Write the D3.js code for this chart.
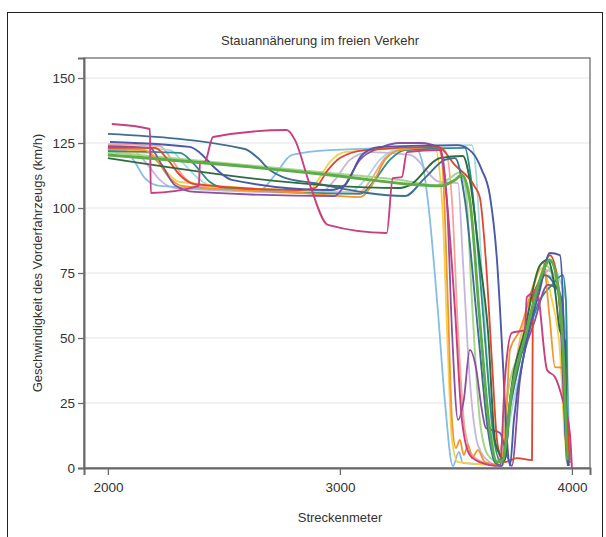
<!DOCTYPE html>
<html>
<head>
<meta charset="utf-8">
<script src="https://cdn.jsdelivr.net/npm/d3@7"></script>
<style>
  body { margin: 0; background: #fff; }
  svg text { font-family: "Liberation Sans", Arial, sans-serif; fill: #333; }
</style>
</head>
<body>
<svg id="chart" width="606" height="537"></svg>
<script>
// Speed of the leading vehicle (km/h) against position (Streckenmeter)
const yTicks = [0, 25, 50, 75, 100, 125, 150];
const xTicks = [2000, 3000, 4000];

const magenta = [[2017,132.3],[2181,130.4],[2185,105.8],[2392,108.5],[2397,117.3],[2418,117.7],[2453,127.3],[2771,130],[2806,126.2],[2871,108.8],[2948,93.5],[3202,90.4],[3228,111.5],[3267,111.9],[3289,121.5],[3431,122.3],[3461,103],[3496,60.8],[3526,18.5],[3560,5],[3603,2.3],[3690,0.8],[3711,33.8],[3741,52],[3797,53],[3806,65.8],[3849,67.7],[3893,37.7],[3927,35],[3961,26],[3991,13.5],[4000,0]];
const navy = [[2009,125.4],[2353,123.5],[2397,121.2],[2461,115.4],[2534,110.8],[2957,106.9],[3021,108.8],[3095,120.4],[3172,123.5],[3509,124.2],[3569,121.5],[3612,114.6],[3646,105],[3677,80],[3702,41.5],[3720,10.8],[3733,0.8],[3750,18.5],[3797,45.4],[3862,68.5],[3905,82.7],[3948,81.9],[3965,53],[3974,10.8],[3983,0.8]];
const steel = [[2000,128.5],[2590,122.7],[2647,119.2],[2698,114.6],[2754,111.9],[2884,109.6],[3280,104.6],[3366,111.5],[3452,118.5],[3496,119.2],[3539,103],[3595,53],[3638,14.6],[3668,2.3],[3698,0.8],[3724,18.5],[3776,41.5],[3841,64.6],[3884,74.2],[3927,70.4],[3957,64.6],[3974,10.8],[3987,0.8]];
const darkGreen = [[2000,119.2],[3259,107.7],[3302,108.8],[3431,119.2],[3530,120],[3560,110.8],[3603,80],[3638,53],[3668,10.8],[3690,5],[3711,3],[3733,26],[3797,53],[3862,78],[3896,80],[3927,68.5],[3948,53],[3970,49],[3978,3]];
const orange = [[2000,122.7],[2159,122.3],[2215,117.7],[2267,111.5],[2319,108.5],[2828,105.8],[3086,104.2],[3138,108.8],[3194,118.5],[3259,122.3],[3422,123.5],[3440,118.5],[3465,64.6],[3483,18.5],[3500,7.7],[3517,10.8],[3534,5],[3552,8.8],[3569,3.8],[3595,6.9],[3625,2.3],[3690,1.2],[3711,10.8],[3733,45.4],[3776,53],[3841,72.3],[3875,79.2],[3905,56.9],[3927,38.8],[3974,38.5],[3983,3]];
const red = [[2000,123.1],[2203,123.1],[2259,118.5],[2310,112.7],[2375,109.2],[2828,106.9],[2892,107.7],[2948,114.6],[3000,119.2],[3108,122.3],[3422,123.5],[3496,116.5],[3582,108.1],[3603,104.2],[3629,80],[3655,41.5],[3677,10.8],[3690,5],[3711,2.3],[3763,3.8],[3828,3],[3832,65.8],[3862,72.3],[3905,81.9],[3931,76.2],[3970,33.8],[3991,1.9]];
const yellow = [[2000,121.5],[2181,121.2],[2246,114.6],[2310,110],[2871,106.9],[2906,110.8],[2957,117.7],[3021,121.5],[3409,123.1],[3440,103],[3465,45.4],[3483,10.8],[3509,2.3],[3690,1.2],[3733,26],[3819,64.6],[3871,76.9],[3914,64.6],[3948,45.4],[3970,10.8],[3983,1.2]];
const lightBlue = [[2000,122.3],[2073,122.3],[2116,117.7],[2159,111.5],[2224,108.5],[2655,106.9],[2720,112.7],[2793,120.4],[2957,122.3],[3323,123.1],[3353,118.5],[3379,103],[3422,60.8],[3452,26.2],[3487,0.8],[3513,6.2],[3530,1.9],[3698,1.2],[3733,26],[3776,45.4],[3841,64.6],[3884,74.2],[3927,72.3],[3970,53],[3991,3]];
const paleCyan = [[2000,123.8],[2267,122.3],[2332,116.5],[2397,110.8],[2461,108.1],[3043,106.2],[3108,110.8],[3172,118.5],[3237,122.3],[3569,124.2],[3586,114.6],[3612,75],[3646,26.2],[3672,1.2],[3702,1.9],[3733,18.5],[3797,45.4],[3862,72.3],[3905,79.2],[3948,72.3],[3974,64.6],[3987,3]];
const lavender = [[2000,121.2],[2116,121.5],[2172,116.5],[2224,110.8],[2289,107.7],[2914,105.8],[2978,110.8],[3043,118.5],[3129,121.5],[3302,120.4],[3431,110],[3509,109.6],[3530,80],[3560,33.8],[3595,8.8],[3646,2.3],[3698,0.8],[3741,26],[3819,56.9],[3884,76.2],[3927,74.2],[3961,56.9],[3983,3]];
const purple = [[2000,123.8],[2181,123.1],[2233,116.5],[2289,108.8],[2375,106.2],[2978,104.6],[3021,108.8],[3086,118.5],[3172,123.1],[3259,125],[3345,125],[3431,123.1],[3461,103],[3483,53],[3509,18.5],[3534,26.2],[3560,45.4],[3586,38.8],[3612,22.3],[3629,15.4],[3690,13.5],[3724,3.8],[3741,0.8],[3776,33.8],[3841,56.9],[3896,70.4],[3940,68.5],[3974,10.8],[3987,0.8]];
const lightGreen = [[2000,121.5],[2957,113.5],[3259,110.8],[3418,108.8],[3474,111.5],[3517,113.8],[3543,106.9],[3569,64.6],[3603,18.5],[3638,5],[3681,2.3],[3733,33.8],[3776,44.6],[3819,53],[3884,78],[3927,72.3],[3957,53],[3983,3]];
const salmon = [[2000,124.6],[2224,123.8],[2276,118.5],[2332,111.5],[2397,108.5],[3086,106.2],[3138,111.5],[3194,119.2],[3259,122.3],[3452,122.3],[3483,103],[3509,53],[3539,14.6],[3582,3.8],[3668,1.2],[3711,14.6],[3776,49.2],[3853,70.4],[3905,76.2],[3948,64.6],[3978,3]];
const teal = [[2000,121.9],[2310,121.2],[2375,116.5],[2440,110],[2504,107.7],[3086,105.4],[3151,110.8],[3215,118.5],[3280,122.3],[3539,123.1],[3560,114.6],[3595,83.8],[3629,45.4],[3659,14.6],[3690,3],[3711,5],[3741,30],[3797,47.3],[3862,64.6],[3914,70.4],[3961,74.2],[3974,64.6],[3983,3]];
const green = [[2000,120.4],[2612,115.8],[2957,112.7],[3431,108.5],[3496,110.8],[3526,112.7],[3560,103],[3603,56.9],[3646,14.6],[3677,2.3],[3702,3],[3741,30],[3797,50],[3862,72.3],[3905,80],[3940,70],[3965,40],[3980,3]];

const seriesData = [salmon, paleCyan, lavender, lightBlue, yellow, lightGreen, teal, orange, purple, red, steel, darkGreen, navy, magenta, green];
const seriesColors = ["#f3a495", "#a6dade", "#c7b6dc", "#86bde4", "#f3d04e", "#a8d58c", "#2b8e8c", "#f0962c", "#8b4f9f", "#e0452d", "#3d6f94", "#2e6b3f", "#4a59a8", "#c83f80", "#5cad47"];
const seriesWidths = [1.8, 1.8, 1.8, 1.8, 1.8, 2, 1.8, 1.8, 1.8, 1.8, 1.9, 1.9, 1.9, 1.9, 2.8];

var svg = d3.select("#chart");

var plot = { left: 84, right: 590, top: 58, bottom: 468 };

var x = d3.scaleLinear().domain([1897, 4078]).range([plot.left, plot.right]);
var y = d3.scaleLinear().domain([0, 157.7]).range([plot.bottom, plot.top]);

// outer frame
svg.append("rect")
  .attr("x", 7.5).attr("y", 12.5)
  .attr("width", 595).attr("height", 540)
  .attr("fill", "none").attr("stroke", "#222").attr("stroke-width", 1);

svg.append("text")
  .attr("x", 320).attr("y", 45)
  .attr("text-anchor", "middle")
  .style("font-size", "13px")
  .text("Stauannäherung im freien Verkehr");

// horizontal grid
svg.append("g")
  .selectAll("line")
  .data(yTicks)
  .enter()
  .append("line")
  .attr("x1", plot.left).attr("x2", plot.right)
  .attr("y1", (d) => y(d)).attr("y2", (d) => y(d))
  .attr("stroke", "#e4e4e4").attr("stroke-width", 1);

// lines
var line = d3.line()
  .x((d) => x(d[0]))
  .y((d) => y(d[1]))
  .curve(d3.curveMonotoneX);

svg.append("g")
  .attr("fill", "none")
  .selectAll("path")
  .data(seriesData)
  .enter()
  .append("path")
  .attr("d", line)
  .attr("stroke", (d, i) => seriesColors[i])
  .attr("stroke-width", (d, i) => seriesWidths[i])
  .attr("stroke-linejoin", "round");

// panel border
svg.append("rect")
  .attr("x", plot.left).attr("y", plot.top)
  .attr("width", plot.right - plot.left).attr("height", plot.bottom - plot.top)
  .attr("fill", "none").attr("stroke", "#6f6f6f").attr("stroke-width", 1.3);

// axes
var axis_y = d3.axisLeft(y).tickValues(yTicks).tickSize(6).tickPadding(3);
var axis_x = d3.axisBottom(x).tickValues(xTicks).tickFormat(d3.format("d")).tickSize(7).tickPadding(7);

var gy = svg.append("g")
  .attr("transform", "translate(" + plot.left + ",0)")
  .call(axis_y);
var gx = svg.append("g")
  .attr("transform", "translate(0," + plot.bottom + ")")
  .call(axis_x);

[gx, gy].forEach((g) => {
  g.select(".domain").attr("stroke", "#6a6a6a").attr("stroke-width", 2);
  g.selectAll(".tick line").attr("stroke", "#6a6a6a").attr("stroke-width", 1.3);
  g.selectAll(".tick text").style("font-size", "13.5px").attr("fill", "#333");
});

svg.append("text")
  .attr("x", 340).attr("y", 522)
  .attr("text-anchor", "middle")
  .style("font-size", "13px")
  .text("Streckenmeter");

svg.append("text")
  .attr("transform", "translate(42," + (plot.top + plot.bottom) / 2 + ") rotate(-90)")
  .attr("text-anchor", "middle")
  .style("font-size", "13px")
  .text("Geschwindigkeit des Vorderfahrzeugs (km/h)");
</script>
</body>
</html>
